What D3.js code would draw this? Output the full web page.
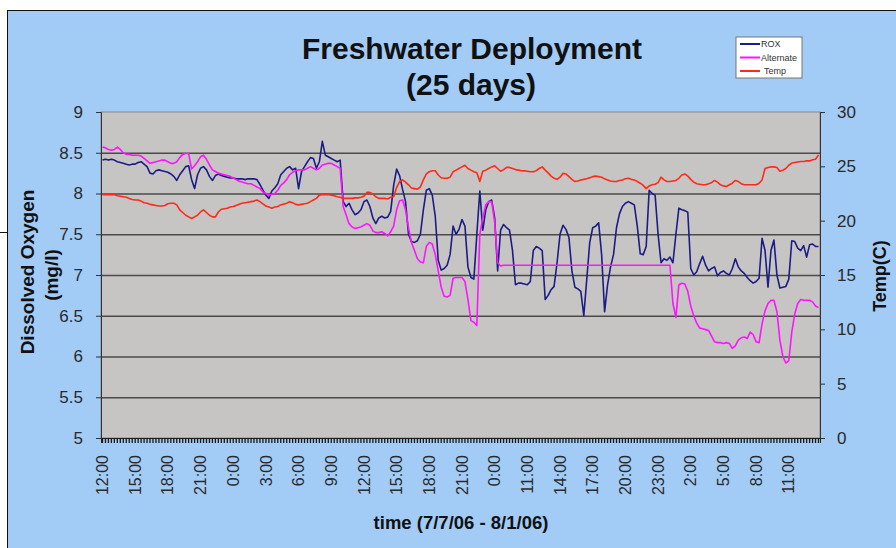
<!DOCTYPE html>
<html>
<head>
<meta charset="utf-8">
<script src="https://cdn.jsdelivr.net/npm/d3@7"></script>
<style>
  body { margin: 0; background: #ffffff; }
  svg { display: block; font-family: Arial, "Liberation Sans", sans-serif; }
</style>
</head>
<body>
<div class="areaGrafica"></div>
<script>
// x axis labels (every 11th sample)
const etiquetasX = ['12:00','15:00','18:00','21:00','0:00','3:00','6:00','9:00','12:00','15:00','18:00',
                    '21:00','0:00','11:00','14:00','17:00','20:00','23:00','2:00','5:00','8:00','11:00'];

// dissolved oxygen, ROX sensor (mg/l)
const rox = [
 8.41,8.42,8.41,8.42,8.41,8.39,8.38,8.37,8.36,8.35,
 8.36,8.36,8.38,8.39,8.36,8.33,8.25,8.24,8.28,8.29,
 8.28,8.27,8.26,8.24,8.21,8.16,8.23,8.28,8.33,8.34,
 8.17,8.06,8.23,8.31,8.33,8.29,8.21,8.16,8.22,8.24,
 8.22,8.21,8.20,8.19,8.19,8.18,8.18,8.18,8.17,8.18,
 8.18,8.18,8.17,8.11,8.04,7.98,7.94,8.03,8.07,8.12,
 8.23,8.27,8.31,8.33,8.29,8.31,8.06,8.27,8.33,8.39,8.44,
 8.43,8.31,8.39,8.64,8.47,8.45,8.43,8.41,8.39,8.41,
 7.90,7.84,7.88,7.80,7.74,7.76,7.80,7.90,7.92,7.84,
 7.70,7.63,7.70,7.72,7.70,7.71,
 7.78,8.10,8.30,8.22,
 8.05,7.90,7.50,7.41,7.40,7.42,7.50,7.80,8.04,8.06,
 7.98,7.72,7.18,7.06,7.08,7.12,7.25,7.60,7.50,7.56,
 7.68,7.60,7.10,6.97,6.95,7.50,8.03,7.55,7.80,7.90,
 7.92,7.70,7.05,7.55,7.62,7.58,7.55,7.30,6.88,6.90,
 6.90,6.89,6.88,6.92,7.30,7.35,7.33,7.30,6.70,6.75,6.82,
 6.86,7.15,7.50,7.61,7.56,7.46,7.05,6.85,6.83,6.80,
 6.50,6.95,7.40,7.58,7.60,7.64,7.25,6.55,6.88,7.10,
 7.25,7.58,7.75,7.84,7.88,7.90,7.88,7.86,7.60,7.26,
 7.25,7.35,8.04,8.00,7.98,7.50,7.15,7.20,7.18,7.22,
 7.15,7.50,7.82,7.80,7.79,7.77,7.08,7.00,7.04,7.14,
 7.23,7.12,7.05,7.08,7.10,6.99,7.03,7.05,7.02,7.00,
 7.08,7.20,7.10,7.05,7.02,6.97,6.93,6.90,6.92,6.96,
 7.45,7.30,6.85,7.30,7.43,7.00,6.84,6.85,6.86,6.95,
 7.42,7.41,7.33,7.30,7.36,7.22,7.37,7.38,7.35,7.35
];

// dissolved oxygen, alternate sensor (mg/l)
const alterno = [
 8.57,8.56,8.54,8.53,8.54,8.57,8.54,8.50,8.48,8.48,
 8.47,8.47,8.47,8.46,8.43,8.40,8.37,8.38,8.39,8.40,
 8.41,8.41,8.39,8.37,8.37,8.39,8.44,8.48,8.49,8.49,
 8.30,8.34,8.39,8.45,8.47,8.42,8.35,8.29,8.27,8.25,
 8.24,8.23,8.22,8.21,8.19,8.17,8.15,8.14,8.13,8.12,
 8.12,8.10,8.08,8.06,8.02,8.00,7.98,7.99,8.00,8.04,
 8.10,8.13,8.17,8.23,8.26,8.28,8.29,8.29,8.29,8.31,8.33,
 8.31,8.29,8.31,8.35,8.36,8.37,8.37,8.35,8.33,8.31,
 7.84,7.74,7.63,7.59,7.57,7.58,7.59,7.61,7.63,7.61,
 7.54,7.52,7.52,7.53,7.51,7.48,
 7.53,7.60,7.80,7.91,
 7.92,7.80,7.58,7.40,7.30,7.20,7.16,7.15,7.35,7.40,
 7.38,7.25,7.05,6.85,6.74,6.73,6.75,6.96,6.97,6.97,
 6.97,6.92,6.70,6.44,6.42,6.38,7.50,7.70,7.86,7.90,
 7.90,7.65,7.15,7.11,7.12,7.12,7.12,7.12,7.12,7.12,
 7.12,7.12,7.12,7.12,7.12,7.12,7.12,7.12,7.12,7.12,7.12,
 7.12,7.12,7.12,7.12,7.12,7.12,7.12,7.12,7.12,7.12,
 7.12,7.12,7.12,7.12,7.12,7.12,7.12,7.12,7.12,7.12,
 7.12,7.12,7.12,7.12,7.12,7.12,7.12,7.12,7.12,7.12,
 7.12,7.12,7.12,7.12,7.12,7.12,7.12,7.12,7.12,7.12,
 6.65,6.48,6.88,6.90,6.89,6.80,6.62,6.50,6.41,6.35,
 6.34,6.33,6.32,6.25,6.18,6.17,6.17,6.16,6.17,6.16,
 6.10,6.13,6.20,6.23,6.24,6.22,6.30,6.27,6.18,6.17,
 6.40,6.56,6.65,6.69,6.69,6.55,6.20,6.00,5.92,5.95,
 6.30,6.52,6.65,6.70,6.69,6.69,6.69,6.67,6.62,6.60
];

// water temperature (C)
const temp = [
 22.4,22.4,22.4,22.4,22.4,22.3,22.25,22.2,22.15,22.05,
 21.95,21.9,21.9,21.8,21.65,21.6,21.5,21.45,21.4,21.35,
 21.35,21.4,21.55,21.6,21.6,21.45,21.0,20.75,20.5,20.35,
 20.2,20.35,20.5,20.8,21.0,20.75,20.5,20.35,20.35,20.8,
 21.05,21.1,21.15,21.25,21.3,21.4,21.5,21.6,21.65,21.7,
 21.75,21.8,21.9,21.75,21.55,21.35,21.25,21.15,21.25,21.3,
 21.45,21.52,21.6,21.75,21.65,21.5,21.45,21.5,21.55,21.6,21.75,
 21.9,22.05,22.35,22.4,22.4,22.4,22.35,22.3,22.2,22.15,
 22.05,22.05,22.05,22.05,22.1,22.1,22.15,22.25,22.6,22.6,
 22.45,22.2,22.05,22.05,22.05,22.0,
 22.15,22.2,23.05,23.6,
 23.75,23.55,23.3,23.0,22.95,22.9,23.1,23.75,24.3,24.5,
 24.6,24.6,24.2,23.95,23.9,23.9,24.0,24.5,24.65,24.8,
 24.95,25.1,24.8,24.65,24.5,24.4,23.6,24.55,24.65,24.8,
 24.95,25.05,24.8,24.55,24.7,24.9,24.9,24.8,24.7,24.65,
 24.6,24.58,24.55,24.5,24.5,24.6,24.8,24.95,24.65,24.4,24.1,
 23.9,23.8,24.0,24.35,24.3,24.05,23.8,23.6,23.65,23.75,
 23.8,23.85,23.95,24.05,24.1,24.05,24.0,23.85,23.75,23.65,
 23.6,23.6,23.7,23.75,23.85,23.9,23.8,23.75,23.6,23.45,
 23.25,22.95,23.2,23.3,23.35,23.5,24.0,23.75,23.6,23.6,
 23.65,23.7,23.9,24.2,24.3,24.1,23.8,23.55,23.4,23.35,
 23.3,23.3,23.4,23.5,23.7,23.55,23.3,23.2,23.15,23.3,
 23.45,23.7,23.6,23.4,23.3,23.3,23.3,23.3,23.3,23.45,
 23.75,24.8,24.9,24.95,24.95,24.9,24.55,24.65,24.8,25.1,
 25.3,25.35,25.4,25.45,25.45,25.5,25.5,25.6,25.65,26.05
];

const ticksDO = [5, 5.5, 6, 6.5, 7, 7.5, 8, 8.5, 9];
const ticksTemp = [0, 5, 10, 15, 20, 25, 30];
const series = [
  { nombre: 'ROX', datos: rox, color: '#1c1c86', eje: 'do' },
  { nombre: 'Alternate', datos: alterno, color: '#ff14ff', eje: 'do' },
  { nombre: 'Temp', datos: temp, color: '#ff2a1a', eje: 't' }
];

const w = 896;
const h = 548;
const izq = 101, der = 820, arriba = 112, abajo = 438;

let svg = d3.select('.areaGrafica')
            .append('svg')
            .attr('width', w)
            .attr('height', h)

// chart area (frame)
svg.append('rect')
   .attr('x', 7.5).attr('y', 10.5)
   .attr('width', w).attr('height', h)
   .attr('fill', '#a2cbf5')
   .attr('stroke', '#111')
svg.append('line')
   .attr('x1', 0).attr('x2', 7).attr('y1', 232.5).attr('y2', 232.5)
   .attr('stroke', '#111')

let xScale = d3.scaleBand()
               .domain(d3.range(rox.length))
               .range([izq, der])

let yDO = d3.scaleLinear().domain([5, 9]).range([abajo, arriba])
let yTemp = d3.scaleLinear().domain([0, 30]).range([abajo, arriba])

// plot area
svg.append('rect')
   .attr('x', izq).attr('y', arriba)
   .attr('width', der - izq).attr('height', abajo - arriba)
   .attr('fill', '#c7c5c3')
   .attr('stroke', '#8a8a8a')

// gridlines
svg.append('g')
   .attr('transform', 'translate(' + izq + ',0)')
   .call(d3.axisLeft(yDO).tickValues(ticksDO.slice(1, -1)).tickSize(-(der - izq)).tickFormat(''))
   .call(g => g.select('.domain').remove())
   .selectAll('line')
   .attr('stroke', '#4a4a4a')
   .attr('stroke-width', 1.4)

// lines
let cx = (d, i) => xScale(i) + xScale.bandwidth() / 2
series.forEach(function(s){
   let escala = s.eje == 'do' ? yDO : yTemp
   let linea = d3.line().x(cx).y((d) => escala(d))
   svg.append('path')
      .datum(s.datos)
      .attr('d', linea)
      .attr('fill', 'none')
      .attr('stroke', s.color)
      .attr('stroke-width', 1.6)
      .attr('stroke-linejoin', 'round')
})

// left axis
svg.append('g')
   .attr('id', 'ejeY')
   .attr('transform', 'translate(' + izq + ',0)')
   .call(d3.axisLeft(yDO).tickValues(ticksDO).tickSize(5).tickPadding(13).tickFormat((d) => String(d)))
   .call(g => g.selectAll('line, path').attr('stroke', '#333'))
   .selectAll('text')
   .attr('font-size', 17)
   .attr('fill', '#2a2a2a')

// right axis
svg.append('g')
   .attr('id', 'ejeY2')
   .attr('transform', 'translate(' + der + ',0)')
   .call(d3.axisRight(yTemp).tickValues(ticksTemp).tickSize(5).tickPadding(12).tickFormat((d) => String(d)))
   .call(g => g.selectAll('line, path').attr('stroke', '#333'))
   .selectAll('text')
   .attr('font-size', 17)
   .attr('fill', '#2a2a2a')

// bottom axis, a tick for every sample, a label every 11th
svg.append('g')
   .attr('id', 'ejeX')
   .attr('transform', 'translate(0,' + abajo + ')')
   .call(d3.axisBottom(xScale).tickSize(5).tickFormat((d) => d % 11 == 0 ? etiquetasX[d / 11] : ''))
   .call(g => g.selectAll('path').attr('stroke', '#222'))
   .call(g => g.selectAll('line').attr('stroke', '#1a1a1a').attr('stroke-width', 1.3))
   .selectAll('text')
   .attr('font-size', 16)
   .attr('fill', '#2a2a2a')
   .attr('transform', 'rotate(-90)')
   .attr('x', -17)
   .attr('y', 0)
   .attr('dy', '0.35em')
   .style('text-anchor', 'end')

// titles
svg.append('text')
   .attr('x', 472).attr('y', 59)
   .attr('text-anchor', 'middle')
   .attr('font-size', 30).attr('font-weight', 'bold')
   .attr('fill', '#111')
   .text('Freshwater Deployment')
svg.append('text')
   .attr('x', 471).attr('y', 95)
   .attr('text-anchor', 'middle')
   .attr('font-size', 30).attr('font-weight', 'bold')
   .attr('fill', '#111')
   .text('(25 days)')

svg.append('text')
   .attr('transform', 'translate(34,272) rotate(-90)')
   .attr('text-anchor', 'middle')
   .attr('font-size', 19).attr('font-weight', 'bold')
   .attr('fill', '#111')
   .text('Dissolved Oxygen')
svg.append('text')
   .attr('transform', 'translate(58,275) rotate(-90)')
   .attr('text-anchor', 'middle')
   .attr('font-size', 19).attr('font-weight', 'bold')
   .attr('fill', '#111')
   .text('(mg/l)')
svg.append('text')
   .attr('transform', 'translate(886,276) rotate(-90)')
   .attr('text-anchor', 'middle')
   .attr('font-size', 18).attr('font-weight', 'bold')
   .attr('fill', '#111')
   .text('Temp(C)')
svg.append('text')
   .attr('x', 461).attr('y', 529)
   .attr('text-anchor', 'middle')
   .attr('font-size', 18.5).attr('font-weight', 'bold')
   .attr('fill', '#111')
   .text('time (7/7/06 - 8/1/06)')

// legend
let leyenda = svg.append('g').attr('transform', 'translate(736,37)')
leyenda.append('rect')
   .attr('width', 66).attr('height', 41)
   .attr('fill', '#ffffff')
   .attr('stroke', '#777')
let filas = leyenda.selectAll('g.fila')
   .data(series)
   .enter()
   .append('g')
   .attr('class', 'fila')
   .attr('transform', (d, i) => 'translate(0,' + (7 + i * 13.5) + ')')
filas.append('line')
   .attr('x1', 4).attr('x2', 24)
   .attr('stroke', (d) => d.color)
   .attr('stroke-width', 2)
filas.append('text')
   .attr('x', (d, i) => i == 2 ? 28 : 25)
   .attr('dy', '0.35em')
   .attr('font-size', 9)
   .attr('fill', '#333')
   .text((d) => d.nombre)
</script>
</body>
</html>
